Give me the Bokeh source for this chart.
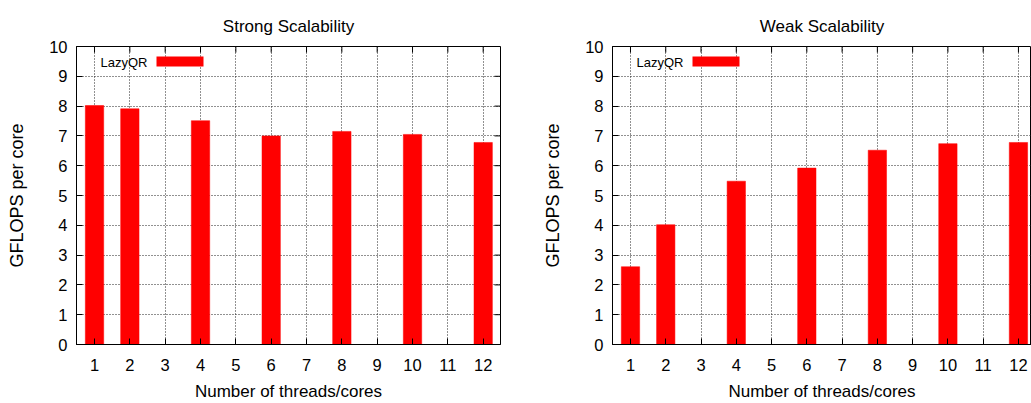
import math
from bokeh.plotting import figure
from bokeh.models import FixedTicker, Label, BoxAnnotation, Range1d
from bokeh.layouts import row
from bokeh.embed import file_html
from bokeh.resources import INLINE

# ---- data ----
threads = [1, 2, 4, 6, 8, 10, 12]
strong_gflops = [8.02, 7.91, 7.51, 7.00, 7.15, 7.05, 6.78]
weak_gflops = [2.61, 4.02, 5.48, 5.92, 6.52, 6.74, 6.78]
x_ticks = list(range(1, 13))
y_ticks = list(range(0, 11))
series_name = "LazyQR"
titles = ["Strong Scalability", "Weak Scalability"]
x_label = "Number of threads/cores"
y_label = "GFLOPS per core"
y_min, y_max = 0, 10

FONT = "Liberation Sans"
RED = "#ff0000"
FIG_H = 403
B_TOP, B_BOTTOM = 46, 59
FRAME_H = FIG_H - B_TOP - B_BOTTOM


def make_panel(title, values, width, border_left, border_right, x_start, x_end, mirror_right):
    p = figure(width=width, height=FIG_H,
               x_range=Range1d(x_start, x_end), y_range=Range1d(y_min, y_max),
               output_backend="svg", toolbar_location=None,
               min_border_left=border_left, min_border_right=border_right,
               min_border_top=B_TOP, min_border_bottom=B_BOTTOM)
    p.outline_line_color = "black"
    p.outline_line_width = 1
    p.outline_line_alpha = 1.0
    p.background_fill_color = "white"
    p.border_fill_color = "white"

    p.title.text = title
    p.title.align = "center"
    p.title.vertical_align = "top"
    p.title.text_font = FONT
    p.title.text_font_size = "17px"
    p.title.text_font_style = "normal"
    p.title.text_color = "black"
    p.title.standoff = 17

    p.xaxis.ticker = FixedTicker(ticks=x_ticks)
    p.yaxis.ticker = FixedTicker(ticks=y_ticks)
    for ax in (p.xaxis[0], p.yaxis[0]):
        ax.axis_line_color = "black"
        ax.major_tick_in = 6
        ax.major_tick_out = 0
        ax.major_tick_line_color = "black"
        ax.minor_tick_line_color = None
        ax.major_label_text_font = FONT
        ax.major_label_text_font_size = "16.5px"
        ax.major_label_text_color = "black"
        ax.axis_label_text_font = FONT
        ax.axis_label_text_font_style = "normal"
        ax.axis_label_text_color = "black"
    p.xaxis.axis_label = x_label
    p.yaxis.axis_label = y_label
    p.xaxis.axis_label_text_font_size = "17px"
    p.yaxis.axis_label_text_font_size = "18px"
    p.xaxis.major_label_standoff = 14
    p.xaxis.axis_label_standoff = 8
    p.yaxis.major_label_standoff = 9
    p.yaxis.axis_label_standoff = 19

    for g in (p.xgrid[0], p.ygrid[0]):
        g.grid_line_color = "#222222"
        g.grid_line_dash = "1 2"
        g.grid_line_width = 1

    p.vbar(x=threads, top=values, width=0.52, fill_color=RED, line_color=RED, line_width=0.5)

    # mirrored inward tick marks on the top (and right) border, gnuplot style
    p.ray(x=x_ticks, y=[y_max] * len(x_ticks), length=6, length_units="screen",
          angle=-math.pi / 2, line_color="black", line_width=1)
    if mirror_right:
        p.ray(x=[x_end] * len(y_ticks), y=y_ticks, length=6, length_units="screen",
              angle=math.pi, line_color="black", line_width=1)

    # key (text then swatch, gnuplot style)
    p.add_layout(Label(x=24, y=FRAME_H - 16, x_units="screen", y_units="screen", text=series_name,
                       text_font=FONT, text_font_size="13px", text_baseline="middle",
                       text_color="black"))
    p.add_layout(BoxAnnotation(left=80, right=127, top=FRAME_H - 10, bottom=FRAME_H - 20,
                               left_units="screen", right_units="screen",
                               top_units="screen", bottom_units="screen",
                               fill_color=RED, fill_alpha=1.0, line_color=None))
    return p


left = make_panel(titles[0], strong_gflops, 540, 76, 40, 0.49, 12.49, True)
right = make_panel(titles[1], weak_gflops, 491, 71, 0, 0.49, 12.37, False)

layout = row(left, right)
open("out.html", "w").write(file_html(layout, INLINE))
